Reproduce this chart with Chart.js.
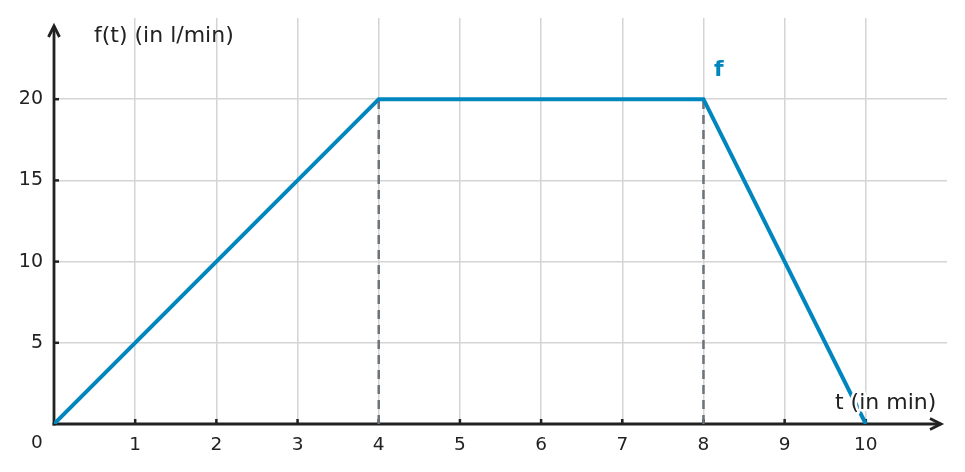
<!DOCTYPE html>
<html>
<head>
<meta charset="utf-8">
<script src="https://cdn.jsdelivr.net/npm/chart.js"></script>
<style>
    body { margin: 0; background: #fff; }
    canvas { display: block; }
</style>
</head>
<body>
<canvas id="chart" width="965" height="472"></canvas>
<script>
// Data
const times = [0, 4, 8, 10]
const flow = [0, 20, 20, 0]
const dropTimes = [4, 8]
const dropLevel = 20

const blue = "#0086BE"
const ink = "#222222"
const font = "DejaVu Sans"

const dropDatasets = dropTimes.map((t) => ({
    data: [{ x: t, y: 0 }, { x: t, y: dropLevel }],
    borderColor: "#6B737B",
    borderWidth: 2.5,
    borderDash: [9, 6],
    pointRadius: 0,
    showLine: true,
    fill: false,
}))

// axes with arrows, tick marks and free labels
const axesPlugin = {
    id: "axes",
    beforeDatasetsDraw(chart) {
        const { ctx, scales } = chart
        const x0 = scales.x.getPixelForValue(0)
        const y0 = scales.y.getPixelForValue(0)
        ctx.save()
        ctx.strokeStyle = ink
        ctx.lineWidth = 2.8
        ctx.lineCap = "butt"
        // y axis
        ctx.beginPath()
        ctx.moveTo(x0, y0 + 1.4)
        ctx.lineTo(x0, 26)
        ctx.stroke()
        ctx.beginPath()
        ctx.moveTo(x0 - 5.5, 37)
        ctx.lineTo(x0, 26)
        ctx.lineTo(x0 + 5.5, 37)
        ctx.stroke()
        // x axis
        ctx.beginPath()
        ctx.moveTo(x0 - 1.4, y0)
        ctx.lineTo(941, y0)
        ctx.stroke()
        ctx.beginPath()
        ctx.moveTo(930, y0 - 5.5)
        ctx.lineTo(941, y0)
        ctx.lineTo(930, y0 + 5.5)
        ctx.stroke()
        // tick marks
        ctx.lineWidth = 2.5
        scales.x.ticks.forEach((t) => {
            if (t.value <= 0 || t.value >= 11) return
            const px = scales.x.getPixelForValue(t.value)
            ctx.beginPath()
            ctx.moveTo(px, y0)
            ctx.lineTo(px, y0 - 5)
            ctx.stroke()
        })
        scales.y.ticks.forEach((t) => {
            if (t.value <= 0 || t.value >= 25) return
            const py = scales.y.getPixelForValue(t.value)
            ctx.beginPath()
            ctx.moveTo(x0, py)
            ctx.lineTo(x0 + 5, py)
            ctx.stroke()
        })
        // labels
        ctx.fillStyle = ink
        ctx.textBaseline = "middle"
        ctx.textAlign = "center"
        ctx.font = "18.5px " + font
        ctx.fillText("0", x0 - 17, 443)
        ctx.textAlign = "left"
        ctx.font = "22px " + font
        ctx.fillText("f(t) (in l/min)", 94, 36)
        ctx.restore()
    },
    afterDatasetsDraw(chart) {
        const { ctx } = chart
        ctx.save()
        ctx.font = "22px " + font
        ctx.textBaseline = "middle"
        ctx.textAlign = "left"
        ctx.lineWidth = 5
        ctx.strokeStyle = "#ffffff"
        ctx.lineJoin = "round"
        ctx.strokeText("t (in min)", 835, 403)
        ctx.fillStyle = ink
        ctx.fillText("t (in min)", 835, 403)
        ctx.font = "bold 22px " + font
        ctx.fillStyle = blue
        ctx.fillText("f", 714, 70)
        ctx.restore()
    },
}

new Chart(document.getElementById("chart"), {
    type: "scatter",
    data: {
        datasets: [
            {
                data: times.map((t, i) => ({ x: t, y: flow[i] })),
                borderColor: blue,
                borderWidth: 4,
                pointRadius: 0,
                showLine: true,
                fill: false,
            },
            ...dropDatasets,
        ],
    },
    options: {
        responsive: false,
        animation: false,
        layout: { padding: { left: 0, right: 18, top: 18, bottom: 0 } },
        plugins: {
            legend: { display: false },
            tooltip: { enabled: false },
        },
        scales: {
            x: {
                type: "linear",
                min: 0,
                max: 11,
                afterFit: (s) => { s.height = 48 },
                border: { display: false },
                grid: {
                    drawTicks: false,
                    lineWidth: 1.5,
                    color: (c) => (c.tick && (c.tick.value === 0 || c.tick.value === 11) ? "rgba(0,0,0,0)" : "#d4d4d4"),
                },
                ticks: {
                    stepSize: 1,
                    padding: 10,
                    color: ink,
                    font: { family: font, size: 18.5 },
                    maxRotation: 0,
                    callback: (v) => (v === 0 || v === 11 ? "" : v),
                },
            },
            y: {
                min: 0,
                max: 25,
                afterFit: (s) => { s.width = 54; s.paddingTop = 0; s.paddingBottom = 0 },
                border: { display: false },
                grid: {
                    drawTicks: false,
                    lineWidth: 1.5,
                    color: (c) => (c.tick && (c.tick.value === 0 || c.tick.value === 25) ? "rgba(0,0,0,0)" : "#d4d4d4"),
                },
                ticks: {
                    stepSize: 5,
                    padding: 11,
                    color: ink,
                    font: { family: font, size: 19 },
                    callback: (v) => (v === 0 || v === 25 ? "" : v),
                },
            },
        },
    },
    plugins: [axesPlugin],
})
</script>
</body>
</html>
